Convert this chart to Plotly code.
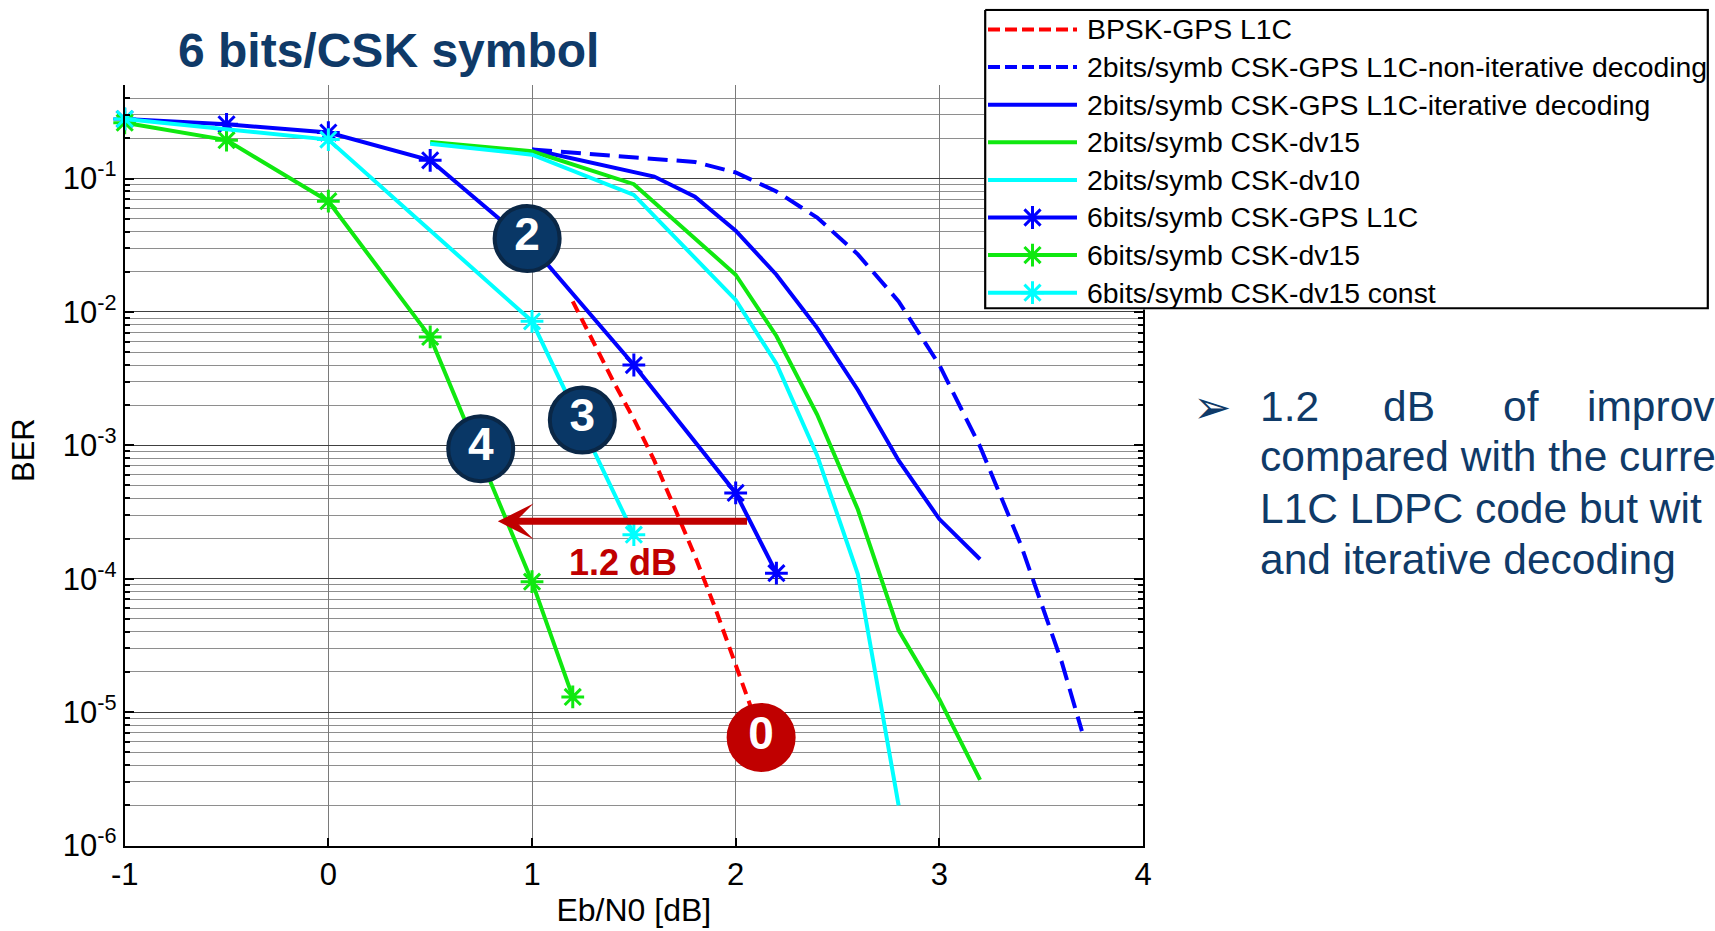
import numpy as np
import plotly.graph_objects as go

W, H = 1715, 931
FONT = "Liberation Sans, Arial, Helvetica, sans-serif"
NAVY = "#0f3a68"
DARKRED = "#c00000"

# ---------------- data ----------------
x_bpsk = [1.2, 1.3, 1.4, 1.5, 1.6, 1.7, 1.8, 1.9, 2.0, 2.1, 2.2]
ber_bpsk = [0.012, 5.9e-3, 3.0e-3, 1.57e-3, 7.7e-4, 3.4e-4, 1.48e-4, 6.0e-5, 2.24e-5, 8.5e-6, 3.6e-6]

x_2b_noniter = [1.0, 1.8, 2.0, 2.2, 2.4, 2.6, 2.8, 3.0, 3.2, 3.4, 3.6, 3.7]
ber_2b_noniter = [0.165, 0.133, 0.111, 0.080, 0.051, 0.027, 0.012, 0.0040, 9.8e-4, 1.8e-4, 2.4e-5, 7.2e-6]

x_2b_iter = [1.0, 1.6, 1.8, 2.0, 2.2, 2.4, 2.6, 2.8, 3.0, 3.2]
ber_2b_iter = [0.165, 0.1035, 0.073, 0.0407, 0.019, 0.0076, 2.6e-3, 7.7e-4, 2.8e-4, 1.4e-4]

x_2b_dv15 = [0.5, 1.0, 1.5, 2.0, 2.2, 2.4, 2.6, 2.8, 3.0, 3.2]
ber_2b_dv15 = [0.188, 0.16, 0.0907, 0.019, 0.0066, 0.0017, 3.3e-4, 4.1e-5, 1.25e-5, 3.1e-6]

x_2b_dv10 = [0.5, 1.0, 1.5, 2.0, 2.2, 2.4, 2.6, 2.8]
ber_2b_dv10 = [0.182, 0.151, 0.0754, 0.0123, 0.0041, 8.4e-4, 1.08e-4, 2.0e-6]

x_6b_gps = [-1.0, -0.5, 0.0, 0.5, 1.0, 1.5, 2.0, 2.2]
ber_6b_gps = [0.279, 0.255, 0.221, 0.137, 0.031, 0.0040, 4.4e-4, 1.1e-4]

x_6b_dv15 = [-1.0, -0.5, 0.0, 0.5, 1.0, 1.2]
ber_6b_dv15 = [0.262, 0.194, 0.0676, 0.0065, 9.5e-5, 1.3e-5]

x_6b_const = [-1.0, 0.0, 1.0, 1.5]
ber_6b_const = [0.28, 0.196, 0.0085, 2.14e-4]

series_names = [
    "BPSK-GPS L1C",
    "2bits/symb CSK-GPS L1C-non-iterative decoding",
    "2bits/symb CSK-GPS L1C-iterative decoding",
    "2bits/symb CSK-dv15",
    "2bits/symb CSK-dv10",
    "6bits/symb CSK-GPS L1C",
    "6bits/symb CSK-dv15",
    "6bits/symb CSK-dv15 const",
]
series_x = [x_bpsk, x_2b_noniter, x_2b_iter, x_2b_dv15, x_2b_dv10, x_6b_gps, x_6b_dv15, x_6b_const]
series_y = [ber_bpsk, ber_2b_noniter, ber_2b_iter, ber_2b_dv15, ber_2b_dv10, ber_6b_gps, ber_6b_dv15, ber_6b_const]
series_color = ["#ff0000", "#0000ff", "#0000ff", "#10e810", "#00ffff", "#0000ff", "#10e810", "#00ffff"]
series_dash = ["12px,7px", "20px,9px", "solid", "solid", "solid", "solid", "solid", "solid"]
series_marker = [False, False, False, False, False, True, True, True]

# badge labels (annotation circles)
badge_text = ["2", "3", "4", "0"]
badge_x = [0.976, 1.247, 0.748, 2.125]
badge_y = [10 ** -1.45, 10 ** -2.81, 10 ** -3.025, 10 ** -5.19]
badge_fill = ["#093766", "#093766", "#093766", DARKRED]
badge_edge = ["#0a2746", "#0a2746", "#0a2746", DARKRED]

y_major = [1e-6, 1e-5, 1e-4, 1e-3, 1e-2, 1e-1]
y_major_text = ["10<sup>-6</sup>", "10<sup>-5</sup>", "10<sup>-4</sup>", "10<sup>-3</sup>",
                "10<sup>-2</sup>", "10<sup>-1</sup>"]
x_ticks = [-1, 0, 1, 2, 3, 4]
x_ticktext = ["-1", "0", "1", "2", "3", "4"]

# right-hand comment text (cut at the page edge in the reference)
comment_line1 = ["1.2", "dB", "of", "improv"]
comment_lines = ["compared with the curre", "L1C LDPC code but wit", "and iterative decoding"]

# ---------------- layout helpers ----------------
def fx(px):
    return px / W

def fy(py):
    return 1 - py / H

plot_l, plot_r, plot_t, plot_b = 124.7, 1143.0, 85.3, 845.5
leg_l, leg_r, leg_t, leg_b = 984.0, 1709.0, 8.7, 309.5
leg_pitch = 37.6
leg_first = 20.8  # px from legend top to first row
leg_w = leg_r - leg_l
leg_ytop = -leg_first / leg_pitch
leg_ybot = 7 + (leg_b - leg_t - leg_first - 7 * leg_pitch) / leg_pitch
inset = 1.2

y_minor = [k * 10.0 ** d for d in range(-6, 0) for k in range(2, 10) if k * 10.0 ** d <= 0.5]

fig = go.Figure()

for name, xs, ys, col, dash, mk in zip(series_names, series_x, series_y, series_color,
                                       series_dash, series_marker):
    fig.add_trace(go.Scatter(
        x=xs, y=ys, name=name, mode="lines+markers" if mk else "lines",
        line=dict(color=col, width=4, dash=dash),
        marker=dict(symbol="asterisk-open", size=19, color=col, line=dict(color=col, width=3)),
        showlegend=False, cliponaxis=False, xaxis="x", yaxis="y",
    ))

# badges
fig.add_trace(go.Scatter(
    x=badge_x, y=badge_y, mode="markers+text",
    text=["<b>%s</b>" % t for t in badge_text], textposition="middle center",
    textfont=dict(size=46, color="white", family=FONT),
    marker=dict(size=65, color=badge_fill, line=dict(color=badge_edge, width=4), opacity=1),
    showlegend=False, hoverinfo="skip", cliponaxis=False, xaxis="x", yaxis="y",
))

# legend box + glyphs (auxiliary hidden axis pair occupying the legend box)
bx0, bx1 = inset, leg_w - inset
by0, by1 = leg_ytop + inset / leg_pitch, leg_ybot - inset / leg_pitch
fig.add_trace(go.Scatter(
    x=[bx0, bx1, bx1, bx0, bx0], y=[by0, by0, by1, by1, by0], mode="lines",
    fill="toself", fillcolor="white", line=dict(color="black", width=2.2),
    showlegend=False, hoverinfo="skip", xaxis="x2", yaxis="y2",
))
for i, (col, dash, mk) in enumerate(zip(series_color, series_dash, series_marker)):
    ldash = "12px,5px" if dash != "solid" else "solid"
    fig.add_trace(go.Scatter(
        x=[4, 93], y=[i, i], mode="lines", line=dict(color=col, width=4, dash=ldash),
        showlegend=False, hoverinfo="skip", xaxis="x2", yaxis="y2",
    ))
    if mk:
        fig.add_trace(go.Scatter(
            x=[48.5], y=[i], mode="markers",
            marker=dict(symbol="asterisk-open", size=19, color=col, line=dict(color=col, width=3)),
            showlegend=False, hoverinfo="skip", xaxis="x2", yaxis="y2",
        ))

annotations = []
for i, name in enumerate(series_names):
    annotations.append(dict(
        x=101, y=i, xref="x2", yref="y2", text=name, showarrow=False,
        xanchor="left", yanchor="middle", font=dict(size=28.4, color="black", family=FONT),
    ))

# 1.2 dB arrow
arrow_y = -3.57
annotations.append(dict(
    x=0.832, y=arrow_y, ax=2.063, ay=arrow_y, xref="x", yref="y", axref="x", ayref="y",
    text="", showarrow=True, arrowhead=3, arrowsize=0.85, arrowwidth=7, arrowcolor=DARKRED,
    standoff=0, startstandoff=0,
))
annotations.append(dict(
    x=1.445, y=-3.88, xref="x", yref="y", text="<b>1.2 dB</b>", showarrow=False,
    font=dict(size=36, color=DARKRED, family=FONT), xanchor="center", yanchor="middle",
))

# y-axis title
annotations.append(dict(x=fx(23), y=fy(450), xref="paper", yref="paper", text="BER",
                        textangle=-90, showarrow=False, xanchor="center", yanchor="middle",
                        font=dict(size=31, color="black", family=FONT)))

# right-hand bullet text
txt_font = dict(size=42.5, color=NAVY, family=FONT)
annotations.append(dict(x=fx(1212), y=fy(407), xref="paper", yref="paper", text="➢",
                        showarrow=False, xanchor="center", yanchor="middle",
                        font=dict(size=46, color=NAVY, family="DejaVu Sans")))
line1_px = [1258, 1381, 1501, 1585]
for w_, p_ in zip(comment_line1, line1_px):
    annotations.append(dict(x=fx(p_), y=fy(407), xref="paper", yref="paper", text=w_,
                            showarrow=False, xanchor="left", yanchor="middle", font=txt_font))
other_py = [457, 508.5, 559]
for t_, p_ in zip(comment_lines, other_py):
    annotations.append(dict(x=fx(1258), y=fy(p_), xref="paper", yref="paper", text=t_,
                            showarrow=False, xanchor="left", yanchor="middle", font=txt_font))

fig.update_layout(
    width=W, height=H, margin=dict(l=0, r=0, t=0, b=0, autoexpand=False),
    paper_bgcolor="white", plot_bgcolor="white",
    font=dict(family=FONT, color="black"),
    title=dict(text="<b>6 bits/CSK symbol</b>", x=fx(178), xanchor="left", xref="paper",
               y=fy(50), yanchor="middle", yref="paper", automargin=False,
               font=dict(size=48, color=NAVY, family=FONT)),
    xaxis=dict(
        domain=[fx(plot_l), fx(plot_r)], anchor="y", range=[-1, 4], automargin=False,
        tickmode="array", tickvals=x_ticks, ticktext=x_ticktext,
        ticks="inside", ticklen=8, tickwidth=1.5, tickcolor="black",
        showline=True, linecolor="black", linewidth=2, mirror=False,
        showgrid=True, gridcolor="#7a7a7a", gridwidth=1, zeroline=False,
        tickfont=dict(size=31, color="black"),
        title=dict(text="Eb/N0 [dB]", font=dict(size=32, color="black"), standoff=8),
    ),
    yaxis=dict(
        domain=[fy(plot_b), fy(plot_t)], anchor="x", type="log", range=[-6, np.log10(0.5)],
        automargin=False,
        tickmode="array", tickvals=y_major, ticktext=y_major_text,
        ticks="inside", ticklen=9, tickwidth=1.5, tickcolor="black",
        showline=True, linecolor="black", linewidth=2, mirror="ticks",
        showgrid=True, gridcolor="#404040", gridwidth=1, zeroline=False,
        minor=dict(tickmode="array", tickvals=y_minor, ticks="inside", ticklen=5,
                   tickcolor="black", showgrid=True, gridcolor="#8e8e8e", gridwidth=1),
        tickfont=dict(size=31, color="black"),
    ),
    xaxis2=dict(domain=[fx(leg_l), fx(leg_r)], anchor="y2", range=[0, leg_w], visible=False,
                fixedrange=True, automargin=False),
    yaxis2=dict(domain=[fy(leg_b), fy(leg_t)], anchor="x2", range=[leg_ybot, leg_ytop],
                visible=False, fixedrange=True, automargin=False),
    annotations=annotations,
    showlegend=False,
)

fig.write_html("out.html")
